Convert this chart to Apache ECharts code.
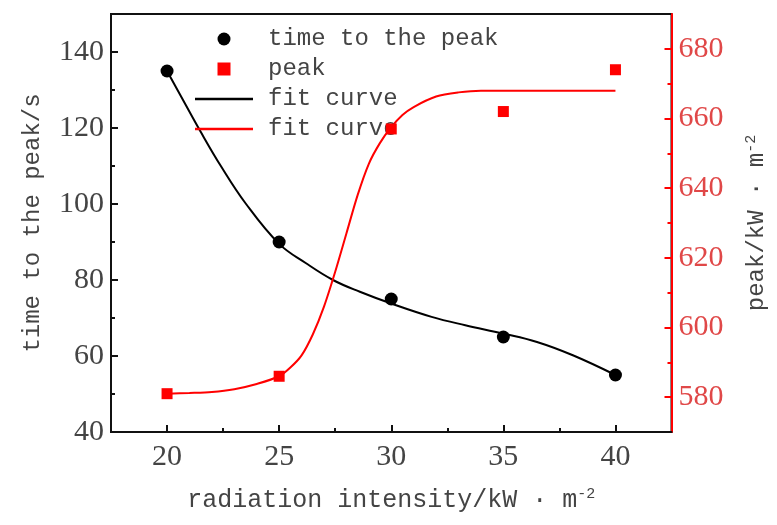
<!DOCTYPE html>
<html>
<head>
<meta charset="utf-8">
<script src="https://cdn.jsdelivr.net/npm/echarts@6/dist/echarts.min.js"></script>
<style>
html,body{margin:0;padding:0;background:#fff;}
#chart{width:777px;height:525px;}
</style>
</head>
<body>
<div id="chart"></div>
<script>
// ---- data ----
const xValues = [20, 25, 30, 35, 40];
const timeToPeak = [135, 90, 75, 65, 55];
const peakValues = [581, 586, 657, 662, 674];

const fitTimeX = [20, 20.7, 21.5, 22.4, 23.5, 25, 26.2, 27.4, 28.6, 30, 31.8, 33.3, 35, 36.5, 38.1, 40];
const fitTimeY = [135, 127.5, 119, 110, 100.2, 89.5, 84.4, 80, 76.9, 73.8, 70.3, 68.1, 65.9, 63.7, 60.2, 55];

const fitPeakX = [20, 21, 22, 23, 24, 25, 25.5, 26, 26.5, 27, 27.5, 28, 28.5, 29, 29.5, 30, 30.5, 31, 32, 33, 34, 35, 40];
const fitPeakY = [581, 581.2, 581.5, 582.3, 583.8, 586, 588.5, 592, 598, 606, 616, 627, 638, 647, 653, 657.5, 661, 663.3, 666.3, 667.5, 668, 668, 668];

const xTicks = [20, 25, 30, 35, 40];
const xMinorTicks = [22.5, 27.5, 32.5, 37.5];
const leftTicks = [40, 60, 80, 100, 120, 140];
const leftMinorTicks = [50, 70, 90, 110, 130];
const rightTicks = [580, 600, 620, 640, 660, 680];
const rightMinorTicks = [590, 610, 630, 650, 670];

const seriesNames = ['time to the peak', 'peak', 'fit curve (time)', 'fit curve (peak)'];

function pairs(xs, ys) { return xs.map((x, i) => [x, ys[i]]); }

const RED = '#ff0000';
const TXT = '#444';
const labelFont = 'Liberation Serif';
const titleFont = 'Liberation Mono';
const lineIcon = 'path://M0,0L100,0L100,4L0,4Z';

const chart = echarts.init(document.getElementById('chart'), null, {renderer: 'canvas'});

const baseX = {
  type: 'value', min: 17.5, max: 42.5, interval: 2.5, gridIndex: 0,
  splitLine: {show: false}
};
const baseLeft = {type: 'value', min: 40, max: 150, interval: 10, position: 'left', splitLine: {show: false}};
const baseRight = {type: 'value', min: 570, max: 690, interval: 10, position: 'right', splitLine: {show: false}};

const option = {
  backgroundColor: '#fff',
  animation: false,
  grid: {left: 111, right: 99, top: 14, bottom: 93, show: true, borderColor: '#111', borderWidth: 2, backgroundColor: 'transparent'},
  legend: {
    orient: 'vertical', left: 195, top: 27, padding: 0, itemWidth: 58, itemHeight: 13, itemGap: 6,
    symbolKeepAspect: true,
    data: [
      {name: seriesNames[0], icon: 'circle'},
      {name: seriesNames[1], icon: 'path://M0,0L10,0L10,10L0,10Z'},
      {name: seriesNames[2], icon: lineIcon},
      {name: seriesNames[3], icon: lineIcon}
    ],
    formatter: function (n) { return n.indexOf('fit curve') === 0 ? 'fit curve' : n; },
    textStyle: {fontFamily: titleFont, fontSize: 24, color: TXT, padding: [0, 0, 0, 10]}
  },
  xAxis: [
    Object.assign({}, baseX, {
      position: 'bottom',
      name: 'radiation intensity/kW · m{sup|-2}', nameLocation: 'middle', nameGap: 55,
      nameTextStyle: {fontFamily: titleFont, fontSize: 25, color: TXT,
        rich: {sup: {fontFamily: titleFont, fontSize: 15, color: TXT, verticalAlign: 'top', padding: [0, 0, 12, 0]}}},
      axisLine: {show: true, lineStyle: {color: '#111', width: 2}},
      axisTick: {show: true, inside: true, length: 7, lineStyle: {color: '#111', width: 2}, customValues: xTicks},
      axisLabel: {show: true, margin: 10, fontFamily: labelFont, fontSize: 30, color: TXT, customValues: xTicks}
    }),
    Object.assign({}, baseX, {
      position: 'bottom',
      axisLine: {show: false},
      axisTick: {show: true, inside: true, length: 4, lineStyle: {color: '#111', width: 2}, customValues: xMinorTicks},
      axisLabel: {show: false}
    })
  ],
  yAxis: [
    Object.assign({}, baseLeft, {
      name: 'time to the peak/s', nameLocation: 'middle', nameGap: 66, nameRotate: 90,
      nameTextStyle: {fontFamily: titleFont, fontSize: 24, color: TXT},
      axisLine: {show: true, lineStyle: {color: '#111', width: 2}},
      axisTick: {show: true, inside: true, length: 7, lineStyle: {color: '#111', width: 2}, customValues: leftTicks},
      axisLabel: {show: true, margin: 7, fontFamily: labelFont, fontSize: 30, color: TXT, customValues: leftTicks}
    }),
    Object.assign({}, baseLeft, {
      axisLine: {show: false},
      axisTick: {show: true, inside: true, length: 4, lineStyle: {color: '#111', width: 2}, customValues: leftMinorTicks},
      axisLabel: {show: false}
    }),
    Object.assign({}, baseRight, {
      name: 'peak/kW · m{sup|-2}', nameLocation: 'middle', nameGap: 72, nameRotate: 90,
      nameTextStyle: {fontFamily: titleFont, fontSize: 24, color: TXT,
        rich: {sup: {fontFamily: titleFont, fontSize: 15, color: TXT, verticalAlign: 'top', padding: [0, 0, 12, 0]}}},
      axisLine: {show: true, lineStyle: {color: RED, width: 2}},
      axisTick: {show: true, inside: true, length: 7, lineStyle: {color: RED, width: 2}, customValues: rightTicks},
      axisLabel: {show: true, margin: 7, fontFamily: labelFont, fontSize: 30, color: '#e04848', customValues: rightTicks}
    }),
    Object.assign({}, baseRight, {
      axisLine: {show: false},
      axisTick: {show: true, inside: true, length: 4, lineStyle: {color: RED, width: 2}, customValues: rightMinorTicks},
      axisLabel: {show: false}
    })
  ],
  series: [
    {
      name: seriesNames[2], type: 'line', xAxisIndex: 0, yAxisIndex: 0,
      data: pairs(fitTimeX, fitTimeY), smooth: 0.4, symbol: 'none', showSymbol: false,
      lineStyle: {color: '#000', width: 2}, itemStyle: {color: '#000'}, z: 2
    },
    {
      name: seriesNames[3], type: 'line', xAxisIndex: 0, yAxisIndex: 2,
      data: pairs(fitPeakX, fitPeakY), smooth: 0.3, symbol: 'none', showSymbol: false,
      lineStyle: {color: RED, width: 2}, itemStyle: {color: RED}, z: 2
    },
    {
      name: seriesNames[0], type: 'scatter', xAxisIndex: 0, yAxisIndex: 0,
      data: pairs(xValues, timeToPeak), symbol: 'circle', symbolSize: 13,
      itemStyle: {color: '#000', opacity: 1}, z: 3
    },
    {
      name: seriesNames[1], type: 'scatter', xAxisIndex: 0, yAxisIndex: 2,
      data: pairs(xValues, peakValues), symbol: 'rect', symbolSize: 11,
      itemStyle: {color: RED, opacity: 1}, z: 5
    }
  ]
};
chart.setOption(option);
</script>
</body>
</html>
